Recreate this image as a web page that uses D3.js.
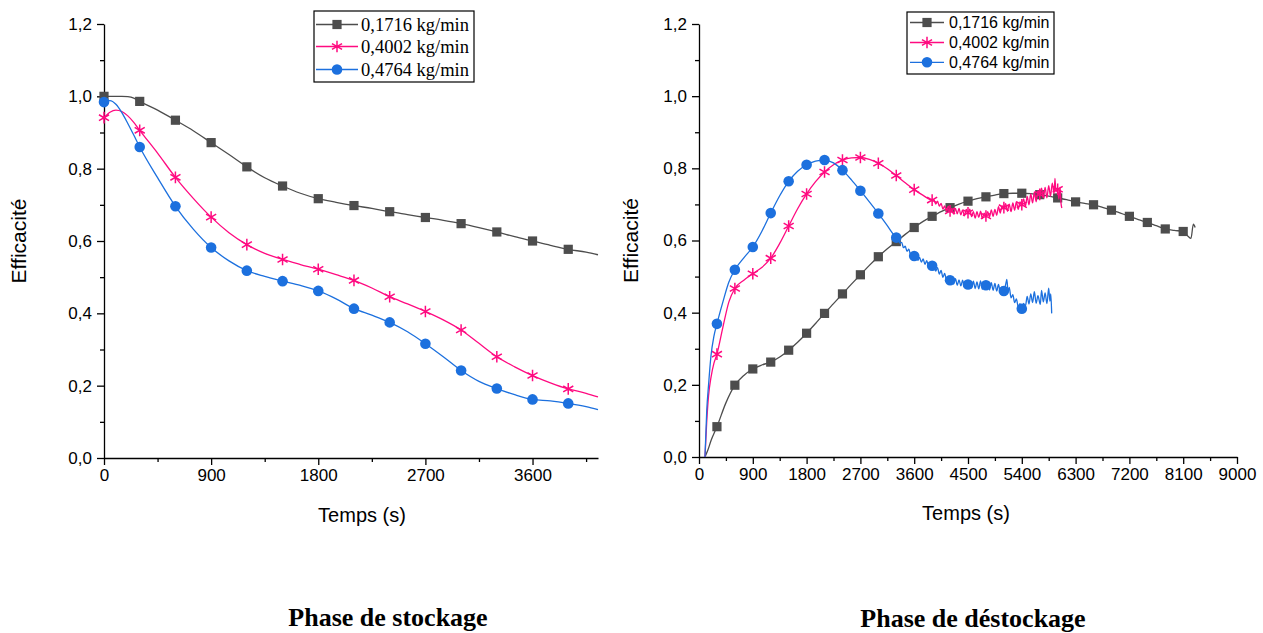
<!DOCTYPE html>
<html>
<head>
<meta charset="utf-8">
<script src="https://cdn.jsdelivr.net/npm/d3@7"></script>
<style>
  body { margin: 0; background: #fff; }
  svg { display: block; }
</style>
</head>
<body>
<svg id="fig" width="1263" height="633"></svg>
<script>
// ---- Storage phase (charge) : time grid and efficiency per mass flow ----
const storeTime = [0, 50, 100, 150, 200, 250, 300, 450, 600, 750, 900, 1050, 1200, 1350, 1500, 1650,
  1800, 1950, 2100, 2250, 2400, 2550, 2700, 2850, 3000, 3150, 3300, 3450, 3600, 3750, 3900, 4050, 4150];
const storeLow = [1.000, 1.000, 1.000, 1.000, 0.999, 0.995, 0.986, 0.962, 0.934, 0.905, 0.872, 0.839,
  0.805, 0.775, 0.752, 0.732, 0.717, 0.707, 0.698, 0.690, 0.681, 0.673, 0.665, 0.657, 0.648, 0.637,
  0.625, 0.612, 0.600, 0.588, 0.577, 0.569, 0.562];
const storeMid = [0.941, 0.956, 0.962, 0.958, 0.946, 0.928, 0.906, 0.843, 0.776, 0.718, 0.666, 0.623,
  0.590, 0.566, 0.549, 0.535, 0.522, 0.507, 0.491, 0.470, 0.446, 0.426, 0.405, 0.382, 0.354, 0.317,
  0.280, 0.252, 0.228, 0.208, 0.191, 0.179, 0.169];
const storeHigh = [0.984, 0.988, 0.978, 0.955, 0.925, 0.893, 0.860, 0.775, 0.696, 0.633, 0.582, 0.545,
  0.518, 0.502, 0.489, 0.477, 0.462, 0.440, 0.413, 0.395, 0.375, 0.349, 0.316, 0.280, 0.242, 0.212,
  0.192, 0.175, 0.162, 0.158, 0.151, 0.142, 0.134];

// ---- Release phase (discharge) : [time, efficiency] per mass flow ----
const releaseLow = [[100, 0], [150, 0.02], [200, 0.045], [300, 0.084], [450, 0.15], [600, 0.199],
  [750, 0.226], [900, 0.244], [1050, 0.255], [1200, 0.263], [1350, 0.277], [1500, 0.296], [1650, 0.318],
  [1800, 0.343], [1950, 0.370], [2100, 0.398], [2250, 0.425], [2400, 0.452], [2550, 0.479], [2700, 0.505],
  [2850, 0.531], [3000, 0.555], [3150, 0.577], [3300, 0.597], [3450, 0.617], [3600, 0.636], [3750, 0.653],
  [3900, 0.667], [4050, 0.680], [4200, 0.691], [4350, 0.701], [4500, 0.709], [4650, 0.716], [4800, 0.721],
  [4950, 0.726], [5100, 0.730], [5250, 0.731], [5400, 0.731], [5550, 0.730], [5700, 0.727], [5850, 0.723],
  [6000, 0.718], [6150, 0.713], [6300, 0.707], [6450, 0.703], [6600, 0.699], [6750, 0.692], [6900, 0.684],
  [7050, 0.676], [7200, 0.667], [7350, 0.658], [7500, 0.650], [7650, 0.641], [7800, 0.632], [7950, 0.628],
  [8100, 0.625], [8180, 0.612], [8230, 0.606], [8270, 0.645], [8300, 0.636]];
const releaseMid = [[100, 0], [130, 0.10], [160, 0.17], [200, 0.22], [250, 0.26], [300, 0.285], [400, 0.36],
  [500, 0.43], [600, 0.467], [750, 0.49], [900, 0.508], [1050, 0.525], [1200, 0.551], [1350, 0.592],
  [1500, 0.640], [1650, 0.688], [1800, 0.729], [1950, 0.763], [2100, 0.790], [2250, 0.810], [2400, 0.823],
  [2550, 0.829], [2700, 0.830], [2850, 0.825], [3000, 0.814], [3150, 0.799], [3300, 0.780], [3450, 0.760],
  [3600, 0.741], [3750, 0.725], [3900, 0.712], [3930, 0.713], [3960, 0.701], [3990, 0.709], [4020, 0.695],
  [4050, 0.703], [4080, 0.687], [4110, 0.696], [4140, 0.681], [4170, 0.695], [4200, 0.682], [4230, 0.689],
  [4260, 0.673], [4290, 0.689], [4320, 0.674], [4350, 0.689], [4380, 0.671], [4410, 0.685], [4440, 0.668],
  [4470, 0.686], [4500, 0.677], [4530, 0.687], [4560, 0.666], [4590, 0.680], [4620, 0.662], [4650, 0.680],
  [4680, 0.664], [4710, 0.681], [4740, 0.661], [4770, 0.676], [4800, 0.668], [4830, 0.680], [4860, 0.665],
  [4890, 0.685], [4920, 0.667], [4950, 0.686], [4980, 0.670], [5010, 0.694], [5040, 0.676], [5070, 0.696],
  [5100, 0.691], [5130, 0.702], [5160, 0.681], [5190, 0.701], [5220, 0.680], [5250, 0.704], [5280, 0.684],
  [5310, 0.708], [5340, 0.686], [5370, 0.707], [5400, 0.699], [5430, 0.715], [5460, 0.694], [5490, 0.722],
  [5520, 0.699], [5550, 0.729], [5580, 0.704], [5610, 0.734], [5640, 0.707], [5670, 0.738], [5700, 0.728],
  [5730, 0.745], [5760, 0.718], [5790, 0.747], [5820, 0.718], [5850, 0.752], [5880, 0.723], [5910, 0.759],
  [5940, 0.730], [5955, 0.772], [5970, 0.735], [6000, 0.742], [6020, 0.715], [6040, 0.748], [6055, 0.705],
  [6070, 0.690]];
const releaseHigh = [[100, 0], [130, 0.13], [160, 0.20], [200, 0.28], [250, 0.335], [300, 0.369], [400, 0.43],
  [500, 0.485], [600, 0.519], [750, 0.552], [900, 0.582], [1050, 0.625], [1200, 0.676], [1350, 0.724],
  [1500, 0.764], [1650, 0.792], [1800, 0.810], [1950, 0.820], [2100, 0.823], [2250, 0.815], [2400, 0.795],
  [2550, 0.768], [2700, 0.738], [2850, 0.707], [3000, 0.675], [3150, 0.641], [3300, 0.608], [3330, 0.604],
  [3360, 0.593], [3390, 0.595], [3420, 0.580], [3450, 0.584], [3480, 0.570], [3510, 0.576], [3540, 0.560],
  [3570, 0.566], [3600, 0.557], [3630, 0.560], [3660, 0.545], [3690, 0.553], [3720, 0.540], [3750, 0.549],
  [3780, 0.534], [3810, 0.544], [3840, 0.529], [3870, 0.540], [3900, 0.530], [3930, 0.533], [3960, 0.515],
  [3990, 0.525], [4020, 0.507], [4050, 0.517], [4080, 0.498], [4110, 0.509], [4140, 0.490], [4170, 0.501],
  [4200, 0.490], [4230, 0.497], [4260, 0.479], [4290, 0.494], [4320, 0.476], [4350, 0.491], [4380, 0.474],
  [4410, 0.490], [4440, 0.471], [4470, 0.488], [4500, 0.478], [4530, 0.486], [4560, 0.468], [4590, 0.487],
  [4620, 0.467], [4650, 0.485], [4680, 0.466], [4710, 0.488], [4740, 0.465], [4770, 0.484], [4800, 0.476],
  [4830, 0.486], [4860, 0.463], [4890, 0.483], [4920, 0.462], [4950, 0.481], [4980, 0.460], [5010, 0.478],
  [5040, 0.457], [5070, 0.472], [5100, 0.460], [5130, 0.478], [5150, 0.492], [5170, 0.458], [5190, 0.470],
  [5220, 0.441], [5250, 0.450], [5280, 0.428], [5310, 0.438], [5340, 0.416], [5370, 0.425], [5400, 0.411],
  [5430, 0.426], [5460, 0.418], [5490, 0.445], [5520, 0.424], [5550, 0.452], [5580, 0.428], [5610, 0.458],
  [5640, 0.426], [5670, 0.447], [5710, 0.423], [5730, 0.462], [5760, 0.430], [5790, 0.455], [5820, 0.425],
  [5850, 0.468], [5870, 0.432], [5885, 0.452], [5900, 0.398]];

// ---- Labels and ticks ----
const seriesNames = ["0,1716 kg/min", "0,4002 kg/min", "0,4764 kg/min"];
const yTicks = [0, 0.2, 0.4, 0.6, 0.8, 1.0, 1.2];
const yMinor = [0.1, 0.3, 0.5, 0.7, 0.9, 1.1];
const storeXTicks = [0, 900, 1800, 2700, 3600];
const storeXMinor = [450, 1350, 2250, 3150, 4050];
const releaseXTicks = [0, 900, 1800, 2700, 3600, 4500, 5400, 6300, 7200, 8100, 9000];
const releaseXMinor = [450, 1350, 2250, 3150, 4050, 4950, 5850, 6750, 7650, 8550];
const panelTitles = ["Phase de stockage", "Phase de déstockage"];

const COLORS = ["#4d4d4d", "#ff0a80", "#1c70de"];
const SANS = "'Liberation Sans', Arial, sans-serif";
const SERIF = "'Liberation Serif', 'Times New Roman', serif";
const MARK_STEP = 300;

const svg = d3.select("#fig");
const commaFmt = v => d3.format(".1f")(v).replace(".", ",");

function drawMarker(g, kind, cx, cy, color) {
  if (kind === 0) {
    g.append("rect").attr("x", cx - 4.6).attr("y", cy - 4.6).attr("width", 9.2).attr("height", 9.2)
      .attr("fill", color);
  } else if (kind === 1) {
    g.append("path").attr("transform", `translate(${cx},${cy})`)
      .attr("d", d3.symbol(d3.symbolAsterisk, 95)())
      .attr("fill", "none").attr("stroke", color).attr("stroke-width", 1.5);
  } else {
    g.append("circle").attr("cx", cx).attr("cy", cy).attr("r", 5.3).attr("fill", color);
  }
}

function drawPanel(p) {
  const g = svg.append("g");
  const x = d3.scaleLinear().domain(p.xDomain).range(p.xRange);
  const y = d3.scaleLinear().domain([0, 1.2]).range(p.yRange);
  const x0 = p.xRange[0], y0 = p.yRange[0];

  // minor ticks
  g.append("g").attr("transform", `translate(0,${y0})`)
    .call(d3.axisBottom(x).tickValues(p.xMinor).tickSize(4).tickFormat(""))
    .call(s => s.select(".domain").remove());
  g.append("g").attr("transform", `translate(${x0},0)`)
    .call(d3.axisLeft(y).tickValues(yMinor).tickSize(4).tickFormat(""))
    .call(s => s.select(".domain").remove());

  // major axes
  const xa = g.append("g").attr("transform", `translate(0,${y0})`)
    .call(d3.axisBottom(x).tickValues(p.xTicks).tickSize(7).tickSizeOuter(0).tickPadding(4)
      .tickFormat(d3.format("d")));
  const ya = g.append("g").attr("transform", `translate(${x0},0)`)
    .call(d3.axisLeft(y).tickValues(yTicks).tickSize(7).tickSizeOuter(0).tickPadding(5)
      .tickFormat(commaFmt));
  [xa, ya].forEach(a => {
    a.selectAll("path,line").attr("stroke", "#000").attr("stroke-width", 1.3);
    a.selectAll("text").attr("font-family", SANS).attr("font-size", 17).attr("fill", "#000");
  });
  g.selectAll(".tick line").attr("stroke", "#000").attr("stroke-width", 1.3);

  // curves with markers
  const line = d3.line().x(d => x(d[0])).y(d => y(d[1])).curve(d3.curveMonotoneX);
  p.series.forEach((data, i) => {
    g.append("path").datum(data).attr("d", line)
      .attr("fill", "none").attr("stroke", COLORS[i]).attr("stroke-width", 1.3)
      .attr("stroke-linejoin", "round");
    const mg = g.append("g");
    data.filter(d => d[0] % MARK_STEP === 0).forEach(d => drawMarker(mg, i, x(d[0]), y(d[1]), COLORS[i]));
  });

  // axis titles
  g.append("text").attr("transform", `translate(${p.yLabelX},${(p.yRange[0] + p.yRange[1]) / 2}) rotate(-90)`)
    .attr("text-anchor", "middle").attr("dominant-baseline", "central")
    .attr("font-family", SANS).attr("font-size", 21).text("Efficacité");
  g.append("text").attr("x", p.xLabel[0]).attr("y", p.xLabel[1])
    .attr("text-anchor", "middle").attr("font-family", SANS).attr("font-size", 20).text("Temps (s)");

  // legend
  const L = p.legend;
  const lg = g.append("g");
  lg.append("rect").attr("x", L.box[0]).attr("y", L.box[1]).attr("width", L.box[2]).attr("height", L.box[3])
    .attr("fill", "#fff").attr("stroke", "#000").attr("stroke-width", 1.2);
  seriesNames.forEach((name, i) => {
    const ry = L.rows[i];
    lg.append("line").attr("x1", L.line[0]).attr("x2", L.line[1]).attr("y1", ry).attr("y2", ry)
      .attr("stroke", COLORS[i]).attr("stroke-width", 1.3);
    drawMarker(lg, i, (L.line[0] + L.line[1]) / 2, ry, COLORS[i]);
    lg.append("text").attr("x", L.textX).attr("y", ry).attr("dominant-baseline", "central")
      .attr("font-family", L.font).attr("font-size", L.size).text(name);
  });

  // panel title
  svg.append("text").attr("x", p.title[0]).attr("y", p.title[1]).attr("text-anchor", "middle")
    .attr("font-family", SERIF).attr("font-weight", "bold").attr("font-size", 26).text(p.titleText);
}

const toPairs = (ts, vs) => ts.map((t, i) => [t, vs[i]]);

drawPanel({
  xDomain: [0, 4150], xRange: [104, 598], yRange: [458, 24],
  xTicks: storeXTicks, xMinor: storeXMinor,
  series: [toPairs(storeTime, storeLow), toPairs(storeTime, storeMid), toPairs(storeTime, storeHigh)],
  yLabelX: 18, xLabel: [362, 522],
  legend: { box: [314, 11, 160, 71], rows: [24.5, 46.5, 69.5], line: [316, 358], textX: 361,
            font: SERIF, size: 18.5 },
  title: [388, 626], titleText: panelTitles[0]
});

drawPanel({
  xDomain: [0, 9000], xRange: [699, 1237], yRange: [457, 24],
  xTicks: releaseXTicks, xMinor: releaseXMinor,
  series: [releaseLow, releaseMid, releaseHigh],
  yLabelX: 630, xLabel: [966, 520],
  legend: { box: [907, 12, 147, 62], rows: [22.5, 42.5, 62.3], line: [910, 944], textX: 949,
            font: SANS, size: 16 },
  title: [973, 627], titleText: panelTitles[1]
});
</script>
</body>
</html>
